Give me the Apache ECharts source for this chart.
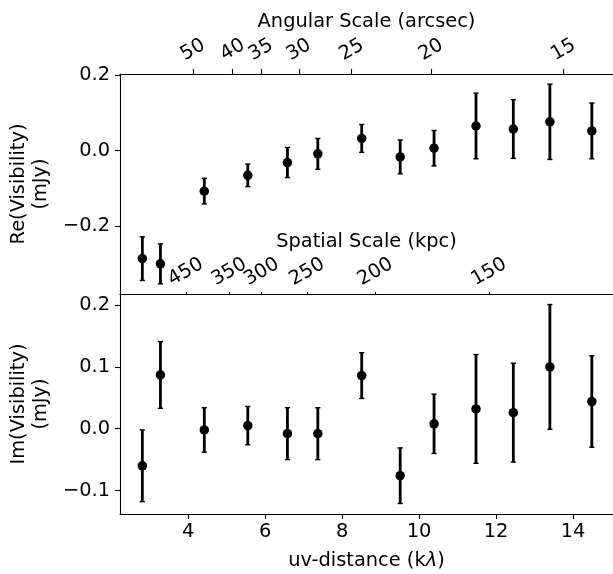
<!DOCTYPE html>
<html>
<head>
<meta charset="utf-8">
<script src="https://cdn.jsdelivr.net/npm/echarts@6/dist/echarts.min.js"></script>
<style>
html,body{margin:0;padding:0;background:#fff;}
#chart{width:613px;height:574px;}
</style>
</head>
<body>
<div id="chart"></div>
<script>
// ---- data ----
const uvDist = [2.81, 3.28, 4.42, 5.55, 6.58, 7.37, 8.51, 9.51, 10.39, 11.48, 12.45, 13.40, 14.49];
const reVis  = [-0.287, -0.301, -0.108, -0.066, -0.032, -0.009, 0.032, -0.017, 0.006, 0.065, 0.057, 0.076, 0.052];
const reErr  = [0.058, 0.053, 0.034, 0.030, 0.040, 0.041, 0.037, 0.045, 0.047, 0.087, 0.078, 0.100, 0.074];
const imVis  = [-0.060, 0.087, -0.002, 0.005, -0.008, -0.008, 0.086, -0.076, 0.008, 0.032, 0.026, 0.100, 0.044];
const imErr  = [0.058, 0.054, 0.036, 0.031, 0.042, 0.042, 0.037, 0.045, 0.048, 0.088, 0.080, 0.101, 0.074];

const uvTicks = [4, 6, 8, 10, 12, 14];
const reTicks = [-0.2, 0.0, 0.2];
const imTicks = [-0.1, 0.0, 0.1, 0.2];
const angularTicks = [50, 40, 35, 30, 25, 20, 15];      // arcsec
const spatialTicks = [450, 350, 300, 250, 200, 150];    // kpc
const ARCSEC_PER_RAD_K = 206.265;   // arcsec * klambda
const KPC_K = 1773;                 // kpc * klambda

// ---- layout ----
const XMIN = 2.229, XMAX = 15.04;
const FS = 19.4;
const FONT = 'DejaVu Sans';
const BLACK = '#000';

const angPos = angularTicks.map(t => ARCSEC_PER_RAD_K / t);
const kpcPos = spatialTicks.map(t => KPC_K / t);

function fmtY(v) {
  const s = Math.abs(v) < 1e-9 ? '0.0' : v.toFixed(1);
  return s.replace('-', '\u2212');
}

function errRender(params, api) {
  const x = api.value(0), y = api.value(1), e = api.value(2);
  const t = api.coord([x, y + e]);
  const b = api.coord([x, y - e]);
  const cw = 2.6;
  return {
    type: 'group',
    children: [
      {type: 'line', shape: {x1: t[0], y1: t[1], x2: b[0], y2: b[1]}, style: {stroke: BLACK, lineWidth: 2.8}},
      {type: 'line', shape: {x1: t[0] - cw, y1: t[1], x2: t[0] + cw, y2: t[1]}, style: {stroke: BLACK, lineWidth: 1.4}},
      {type: 'line', shape: {x1: b[0] - cw, y1: b[1], x2: b[0] + cw, y2: b[1]}, style: {stroke: BLACK, lineWidth: 1.4}}
    ]
  };
}

const axisLineStyle = {show: true, onZero: false, lineStyle: {color: BLACK, width: 1.1}};
const labelBase = {color: BLACK, fontSize: FS, fontFamily: FONT};
const nameBase = {color: BLACK, fontSize: FS, fontFamily: FONT};

const chart = echarts.init(document.getElementById('chart'), null, {renderer: 'canvas'});
chart.setOption({
  backgroundColor: '#fff',
  animation: false,
  grid: [
    {left: 118, top: 74, width: 498, height: 220},
    {left: 118, top: 294, width: 498, height: 220}
  ],
  xAxis: [
    {
      gridIndex: 0, type: 'value', position: 'top', min: XMIN, max: XMAX,
      axisLine: axisLineStyle,
      axisTick: {show: true, length: 5, customValues: angPos, lineStyle: {color: BLACK, width: 1.1}},
      axisLabel: Object.assign({}, labelBase, {
        customValues: angPos, rotate: -30, align: 'center', verticalAlign: 'middle', margin: 24,
        formatter: v => String(Math.round(ARCSEC_PER_RAD_K / v))
      }),
      splitLine: {show: false},
      name: 'Angular Scale (arcsec)', nameLocation: 'middle', nameGap: 43, nameTextStyle: nameBase
    },
    {
      gridIndex: 1, type: 'value', position: 'bottom', min: XMIN, max: XMAX,
      axisLine: axisLineStyle,
      axisTick: {show: true, length: 5, customValues: uvTicks, lineStyle: {color: BLACK, width: 1.1}},
      axisLabel: Object.assign({}, labelBase, {customValues: uvTicks, margin: 8}),
      splitLine: {show: false},
      name: 'uv-distance (k{i|λ})', nameLocation: 'middle', nameGap: 37,
      nameTextStyle: Object.assign({}, nameBase, {rich: {i: {fontStyle: 'italic', fontSize: FS, fontFamily: FONT, color: BLACK}}})
    },
    {
      gridIndex: 1, type: 'value', position: 'top', min: XMIN, max: XMAX,
      axisLine: axisLineStyle,
      axisTick: {show: true, length: 2, customValues: kpcPos, lineStyle: {color: BLACK, width: 1.1}},
      axisLabel: Object.assign({}, labelBase, {
        customValues: kpcPos, rotate: -30, align: 'center', verticalAlign: 'middle', margin: 22,
        formatter: v => String(Math.round(KPC_K / v))
      }),
      splitLine: {show: false},
      name: 'Spatial Scale (kpc)', nameLocation: 'middle', nameGap: 43, nameTextStyle: nameBase
    }
  ],
  yAxis: [
    {
      gridIndex: 0, type: 'value', min: -0.381, max: 0.203,
      axisLine: axisLineStyle,
      axisTick: {show: true, length: 5, customValues: reTicks, lineStyle: {color: BLACK, width: 1.1}},
      axisLabel: Object.assign({}, labelBase, {customValues: reTicks, margin: 10, formatter: fmtY}),
      splitLine: {show: false},
      name: 'Re(Visibility)\n(mJy)', nameLocation: 'middle', nameRotate: 90, nameGap: 56,
      nameTextStyle: Object.assign({}, nameBase, {lineHeight: 22})
    },
    {
      gridIndex: 1, type: 'value', min: -0.138, max: 0.218,
      axisLine: axisLineStyle,
      axisTick: {show: true, length: 5, customValues: imTicks, lineStyle: {color: BLACK, width: 1.1}},
      axisLabel: Object.assign({}, labelBase, {customValues: imTicks, margin: 10, formatter: fmtY}),
      splitLine: {show: false},
      name: 'Im(Visibility)\n(mJy)', nameLocation: 'middle', nameRotate: 90, nameGap: 56,
      nameTextStyle: Object.assign({}, nameBase, {lineHeight: 22})
    }
  ],
  series: [
    {
      type: 'custom', xAxisIndex: 0, yAxisIndex: 0, renderItem: errRender,
      data: uvDist.map((x, i) => [x, reVis[i], reErr[i]]), z: 2
    },
    {
      type: 'scatter', xAxisIndex: 0, yAxisIndex: 0, symbol: 'circle', symbolSize: 9.5,
      itemStyle: {color: BLACK, opacity: 1}, data: uvDist.map((x, i) => [x, reVis[i]]), z: 3
    },
    {
      type: 'custom', xAxisIndex: 2, yAxisIndex: 1, renderItem: errRender,
      data: uvDist.map((x, i) => [x, imVis[i], imErr[i]]), z: 2
    },
    {
      type: 'scatter', xAxisIndex: 2, yAxisIndex: 1, symbol: 'circle', symbolSize: 9.5,
      itemStyle: {color: BLACK, opacity: 1}, data: uvDist.map((x, i) => [x, imVis[i]]), z: 3
    }
  ]
});
</script>
</body>
</html>
